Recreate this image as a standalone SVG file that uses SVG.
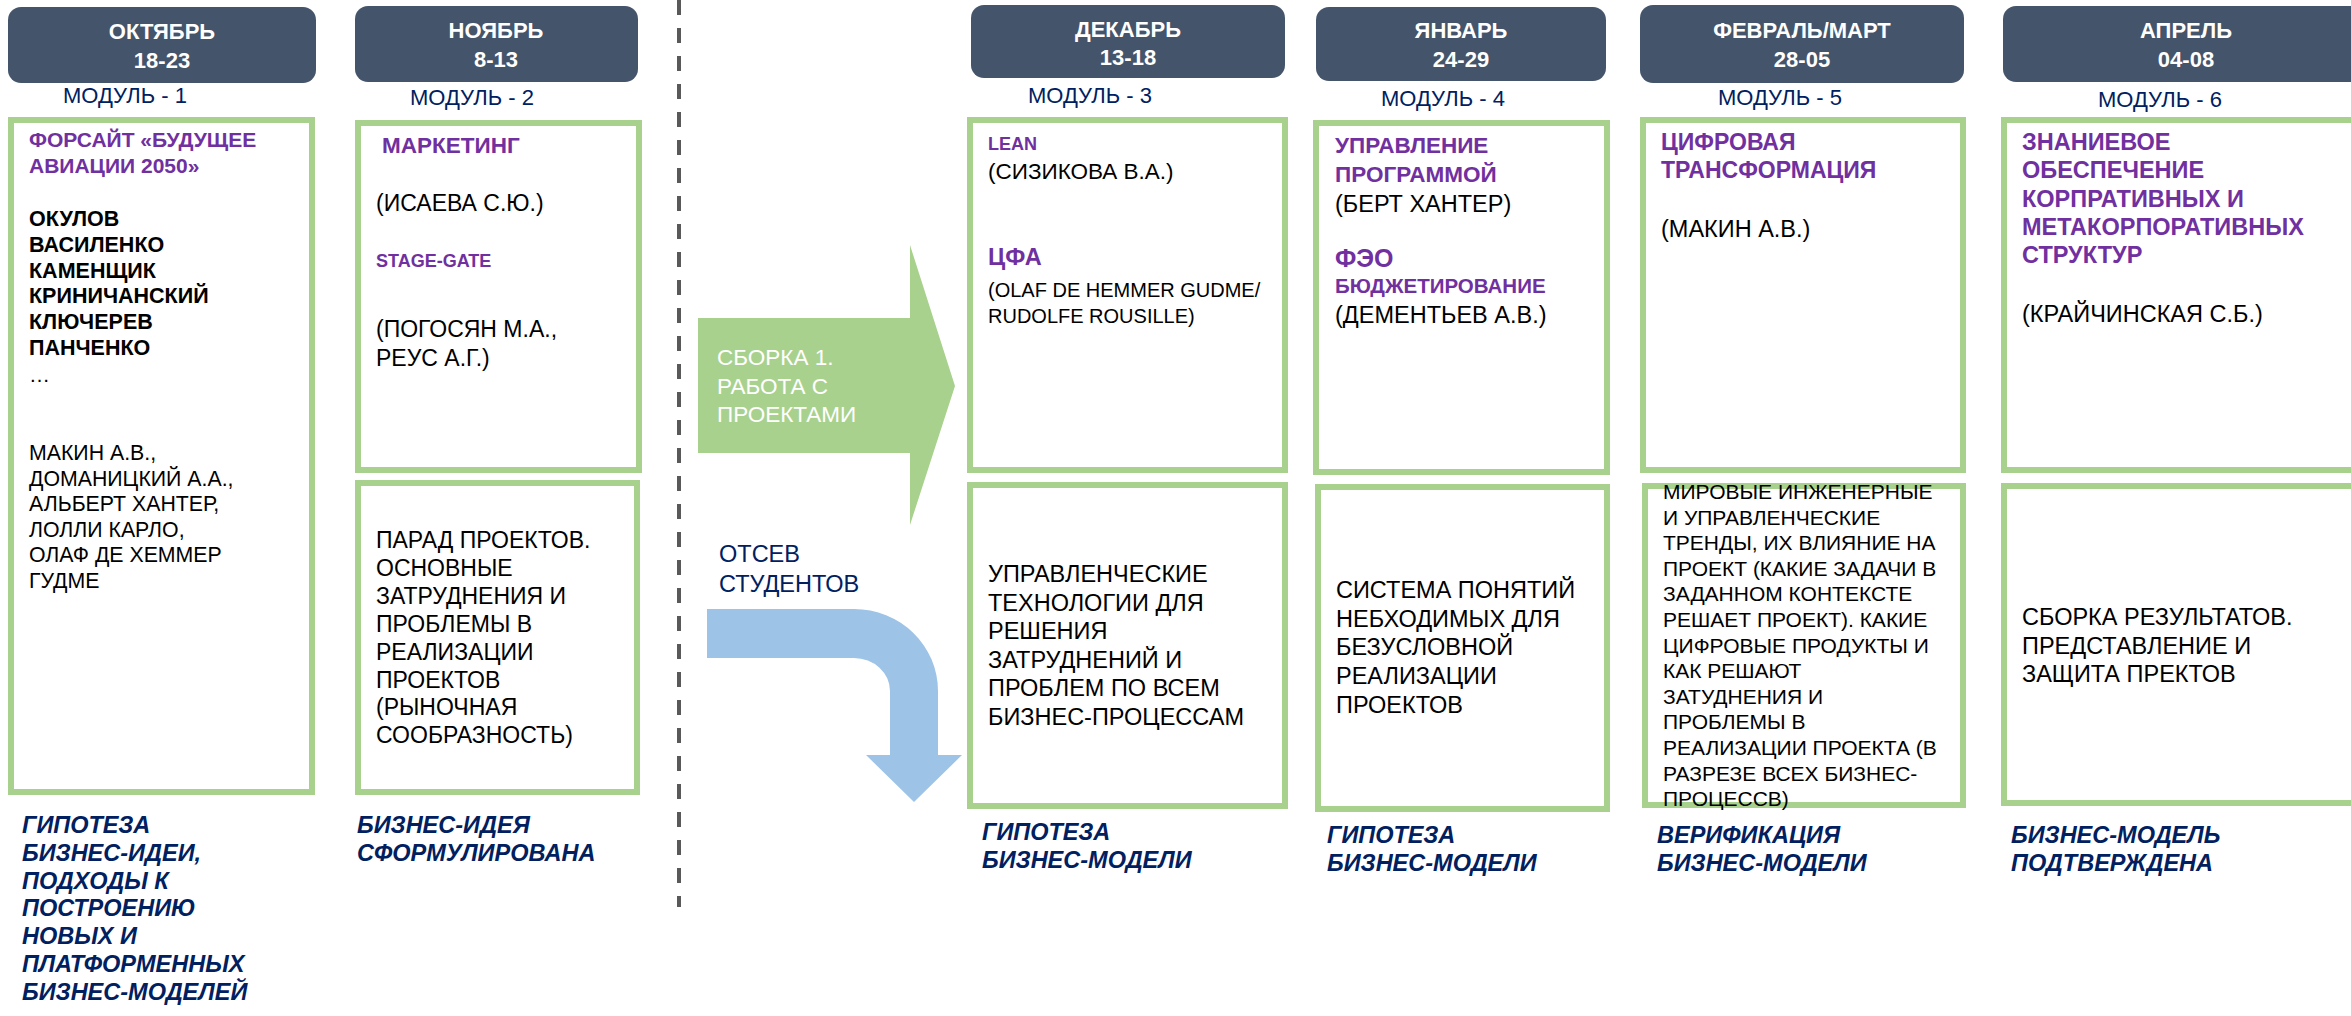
<svg xmlns="http://www.w3.org/2000/svg" width="2351" height="1016" viewBox="0 0 2351 1016">
<style>
text{font-family:"Liberation Sans",Arial,sans-serif;}
.hdr{fill:#44546A;}
.ht{fill:#fff;font-weight:bold;font-size:22px;text-anchor:middle;}
.mod{fill:#002060;font-size:22px;}
.box{fill:#fff;stroke:#A9D18E;stroke-width:6;}
.pb{fill:#7030A0;font-weight:bold;}
.kb{fill:#000;font-weight:bold;}
.k{fill:#000;}
.cap{fill:#002060;font-weight:bold;font-style:italic;font-size:23.5px;}
</style>
<rect width="2351" height="1016" fill="#fff"/>
<g id="connectors">
<line x1="679" y1="0" x2="679" y2="907" stroke="#595959" stroke-width="4" stroke-dasharray="15 13"/>
<path d="M698 318 L910 318 L910 245 L955 386 L910 525 L910 453 L698 453 Z" fill="#A9D18E"/>
<path d="M707 609 L854 609 A84 82 0 0 1 938 691 L938 755 L962 755 L914 802 L866 755 L890 755 L890 691 A36 33 0 0 0 854 658 L707 658 Z" fill="#9DC3E6"/>
<text x="717" y="365" fill="#fff" font-size="22.5"><tspan x="717">СБОРКА 1.</tspan><tspan x="717" dy="28.5">РАБОТА С</tspan><tspan x="717" dy="28.5">ПРОЕКТАМИ</tspan></text>
<text x="719" y="562" fill="#002060" font-size="23.5"><tspan x="719">ОТСЕВ</tspan><tspan x="719" dy="30">СТУДЕНТОВ</tspan></text>
</g>
<g id="oct">
<g id="oct-header"><rect class="hdr" x="8" y="7" width="308" height="76" rx="13"/><text class="ht" x="162" y="39">ОКТЯБРЬ</text><text class="ht" x="162" y="68" font-size="20">18-23</text></g>
<text class="mod" x="63" y="103">МОДУЛЬ - 1</text>
<g id="oct-box"><rect class="box" x="11" y="120" width="301" height="672"/>
<text class="pb" font-size="21" x="29" y="147"><tspan x="29">ФОРСАЙТ «БУДУЩЕЕ</tspan><tspan x="29" dy="26">АВИАЦИИ 2050»</tspan></text>
<text class="kb" font-size="21.5" x="29" y="226"><tspan x="29">ОКУЛОВ</tspan><tspan x="29" dy="25.8">ВАСИЛЕНКО</tspan><tspan x="29" dy="25.8">КАМЕНЩИК</tspan><tspan x="29" dy="25.8">КРИНИЧАНСКИЙ</tspan><tspan x="29" dy="25.8">КЛЮЧЕРЕВ</tspan><tspan x="29" dy="25.8">ПАНЧЕНКО</tspan></text>
<text class="k" font-size="21" x="29" y="382">…</text>
<text class="k" font-size="21.3" x="29" y="460"><tspan x="29">МАКИН А.В.,</tspan><tspan x="29" dy="25.5">ДОМАНИЦКИЙ А.А.,</tspan><tspan x="29" dy="25.5">АЛЬБЕРТ ХАНТЕР,</tspan><tspan x="29" dy="25.5">ЛОЛЛИ КАРЛО,</tspan><tspan x="29" dy="25.5">ОЛАФ ДЕ ХЕММЕР</tspan><tspan x="29" dy="25.5">ГУДМЕ</tspan></text>
</g>
<text class="cap" x="22" y="833"><tspan x="22">ГИПОТЕЗА</tspan><tspan x="22" dy="27.8">БИЗНЕС-ИДЕИ,</tspan><tspan x="22" dy="27.8">ПОДХОДЫ К</tspan><tspan x="22" dy="27.8">ПОСТРОЕНИЮ</tspan><tspan x="22" dy="27.8">НОВЫХ И</tspan><tspan x="22" dy="27.8">ПЛАТФОРМЕННЫХ</tspan><tspan x="22" dy="27.8">БИЗНЕС-МОДЕЛЕЙ</tspan></text>
</g>
<g id="nov">
<g id="nov-header"><rect class="hdr" x="355" y="6" width="283" height="76" rx="13"/><text class="ht" x="496" y="38">НОЯБРЬ</text><text class="ht" x="496" y="67" font-size="20">8-13</text></g>
<text class="mod" x="410" y="105">МОДУЛЬ - 2</text>
<g id="nov-top"><rect class="box" x="358" y="123" width="281" height="347"/>
<text class="pb" font-size="22.5" x="382" y="153">МАРКЕТИНГ</text>
<text class="k" font-size="23" x="376" y="211">(ИСАЕВА С.Ю.)</text>
<text class="pb" font-size="18" x="376" y="267">STAGE-GATE</text>
<text class="k" font-size="23" x="376" y="337"><tspan x="376">(ПОГОСЯН М.А.,</tspan><tspan x="376" dy="29">РЕУС А.Г.)</tspan></text>
</g>
<g id="nov-bottom"><rect class="box" x="358" y="483" width="279" height="309"/>
<text class="k" font-size="23" x="376" y="548"><tspan x="376">ПАРАД ПРОЕКТОВ.</tspan><tspan x="376" dy="27.9">ОСНОВНЫЕ</tspan><tspan x="376" dy="27.9">ЗАТРУДНЕНИЯ И</tspan><tspan x="376" dy="27.9">ПРОБЛЕМЫ В</tspan><tspan x="376" dy="27.9">РЕАЛИЗАЦИИ</tspan><tspan x="376" dy="27.9">ПРОЕКТОВ</tspan><tspan x="376" dy="27.9">(РЫНОЧНАЯ</tspan><tspan x="376" dy="27.9">СООБРАЗНОСТЬ)</tspan></text>
</g>
<text class="cap" x="357" y="833"><tspan x="357">БИЗНЕС-ИДЕЯ</tspan><tspan x="357" dy="28">СФОРМУЛИРОВАНА</tspan></text>
</g>
<g id="dec">
<g id="dec-header"><rect class="hdr" x="971" y="5" width="314" height="73" rx="13"/><text class="ht" x="1128" y="37">ДЕКАБРЬ</text><text class="ht" x="1128" y="65" font-size="20">13-18</text></g>
<text class="mod" x="1028" y="103">МОДУЛЬ - 3</text>
<g id="dec-top"><rect class="box" x="970" y="120" width="315" height="350"/>
<text class="pb" font-size="18" x="988" y="150">LEAN</text>
<text class="k" font-size="22.5" x="988" y="179">(СИЗИКОВА В.А.)</text>
<text class="pb" font-size="23.5" x="988" y="265">ЦФА</text>
<text class="k" font-size="20" x="988" y="297"><tspan x="988">(OLAF DE HEMMER GUDME/</tspan><tspan x="988" dy="26">RUDOLFE ROUSILLE)</tspan></text>
</g>
<g id="dec-bottom"><rect class="box" x="970" y="485" width="315" height="321"/>
<text class="k" font-size="23.5" x="988" y="582"><tspan x="988">УПРАВЛЕНЧЕСКИЕ</tspan><tspan x="988" dy="28.6">ТЕХНОЛОГИИ ДЛЯ</tspan><tspan x="988" dy="28.6">РЕШЕНИЯ</tspan><tspan x="988" dy="28.6">ЗАТРУДНЕНИЙ И</tspan><tspan x="988" dy="28.6">ПРОБЛЕМ ПО ВСЕМ</tspan><tspan x="988" dy="28.6">БИЗНЕС-ПРОЦЕССАМ</tspan></text>
</g>
<text class="cap" x="982" y="840"><tspan x="982">ГИПОТЕЗА</tspan><tspan x="982" dy="28">БИЗНЕС-МОДЕЛИ</tspan></text>
</g>
<g id="jan">
<g id="jan-header"><rect class="hdr" x="1316" y="7" width="290" height="74" rx="13"/><text class="ht" x="1461" y="38">ЯНВАРЬ</text><text class="ht" x="1461" y="67" font-size="20">24-29</text></g>
<text class="mod" x="1381" y="106">МОДУЛЬ - 4</text>
<g id="jan-top"><rect class="box" x="1316" y="123" width="291" height="349"/>
<text class="pb" font-size="22.5" x="1335" y="153"><tspan x="1335">УПРАВЛЕНИЕ</tspan><tspan x="1335" dy="29">ПРОГРАММОЙ</tspan></text>
<text class="k" font-size="23.5" x="1335" y="212">(БЕРТ ХАНТЕР)</text>
<text class="pb" font-size="25" x="1335" y="267">ФЭО</text>
<text class="pb" font-size="20.5" x="1335" y="293">БЮДЖЕТИРОВАНИЕ</text>
<text class="k" font-size="23.5" x="1335" y="323">(ДЕМЕНТЬЕВ А.В.)</text>
</g>
<g id="jan-bottom"><rect class="box" x="1318" y="487" width="289" height="322"/>
<text class="k" font-size="23.5" x="1336" y="598"><tspan x="1336">СИСТЕМА ПОНЯТИЙ</tspan><tspan x="1336" dy="28.7">НЕБХОДИМЫХ ДЛЯ</tspan><tspan x="1336" dy="28.7">БЕЗУСЛОВНОЙ</tspan><tspan x="1336" dy="28.7">РЕАЛИЗАЦИИ</tspan><tspan x="1336" dy="28.7">ПРОЕКТОВ</tspan></text>
</g>
<text class="cap" x="1327" y="843"><tspan x="1327">ГИПОТЕЗА</tspan><tspan x="1327" dy="28">БИЗНЕС-МОДЕЛИ</tspan></text>
</g>
<g id="feb">
<g id="feb-header"><rect class="hdr" x="1640" y="5" width="324" height="78" rx="13"/><text class="ht" x="1802" y="38">ФЕВРАЛЬ/МАРТ</text><text class="ht" x="1802" y="67" font-size="20">28-05</text></g>
<text class="mod" x="1718" y="105">МОДУЛЬ - 5</text>
<g id="feb-top"><rect class="box" x="1643" y="120" width="320" height="350"/>
<text class="pb" font-size="23" x="1661" y="150"><tspan x="1661">ЦИФРОВАЯ</tspan><tspan x="1661" dy="28">ТРАНСФОРМАЦИЯ</tspan></text>
<text class="k" font-size="23.5" x="1661" y="237">(МАКИН А.В.)</text>
</g>
<g id="feb-bottom"><rect class="box" x="1645" y="486" width="318" height="319"/>
<text class="k" font-size="21" x="1663" y="499"><tspan x="1663">МИРОВЫЕ ИНЖЕНЕРНЫЕ</tspan><tspan x="1663" dy="25.6">И УПРАВЛЕНЧЕСКИЕ</tspan><tspan x="1663" dy="25.6">ТРЕНДЫ, ИХ ВЛИЯНИЕ НА</tspan><tspan x="1663" dy="25.6">ПРОЕКТ (КАКИЕ ЗАДАЧИ В</tspan><tspan x="1663" dy="25.6">ЗАДАННОМ КОНТЕКСТЕ</tspan><tspan x="1663" dy="25.6">РЕШАЕТ ПРОЕКТ). КАКИЕ</tspan><tspan x="1663" dy="25.6">ЦИФРОВЫЕ ПРОДУКТЫ И</tspan><tspan x="1663" dy="25.6">КАК РЕШАЮТ</tspan><tspan x="1663" dy="25.6">ЗАТУДНЕНИЯ И</tspan><tspan x="1663" dy="25.6">ПРОБЛЕМЫ В</tspan><tspan x="1663" dy="25.6">РЕАЛИЗАЦИИ ПРОЕКТА (В</tspan><tspan x="1663" dy="25.6">РАЗРЕЗЕ ВСЕХ БИЗНЕС-</tspan><tspan x="1663" dy="25.6">ПРОЦЕССВ)</tspan></text>
</g>
<text class="cap" x="1657" y="843"><tspan x="1657">ВЕРИФИКАЦИЯ</tspan><tspan x="1657" dy="28">БИЗНЕС-МОДЕЛИ</tspan></text>
</g>
<g id="apr">
<g id="apr-header"><rect class="hdr" x="2003" y="6" width="400" height="76" rx="13"/><text class="ht" x="2186" y="38">АПРЕЛЬ</text><text class="ht" x="2186" y="67" font-size="20">04-08</text></g>
<text class="mod" x="2098" y="107">МОДУЛЬ - 6</text>
<g id="apr-top"><rect class="box" x="2004" y="120" width="400" height="350"/>
<text class="pb" font-size="23.5" x="2022" y="150"><tspan x="2022">ЗНАНИЕВОЕ</tspan><tspan x="2022" dy="28.3">ОБЕСПЕЧЕНИЕ</tspan><tspan x="2022" dy="28.3">КОРПРАТИВНЫХ И</tspan><tspan x="2022" dy="28.3">МЕТАКОРПОРАТИВНЫХ</tspan><tspan x="2022" dy="28.3">СТРУКТУР</tspan></text>
<text class="k" font-size="23.5" x="2022" y="322">(КРАЙЧИНСКАЯ С.Б.)</text>
</g>
<g id="apr-bottom"><rect class="box" x="2004" y="486" width="400" height="317"/>
<text class="k" font-size="23.5" x="2022" y="625"><tspan x="2022">СБОРКА РЕЗУЛЬТАТОВ.</tspan><tspan x="2022" dy="28.5">ПРЕДСТАВЛЕНИЕ И</tspan><tspan x="2022" dy="28.5">ЗАЩИТА ПРЕКТОВ</tspan></text>
</g>
<text class="cap" x="2011" y="843"><tspan x="2011">БИЗНЕС-МОДЕЛЬ</tspan><tspan x="2011" dy="28">ПОДТВЕРЖДЕНА</tspan></text>
</g>
</svg>
